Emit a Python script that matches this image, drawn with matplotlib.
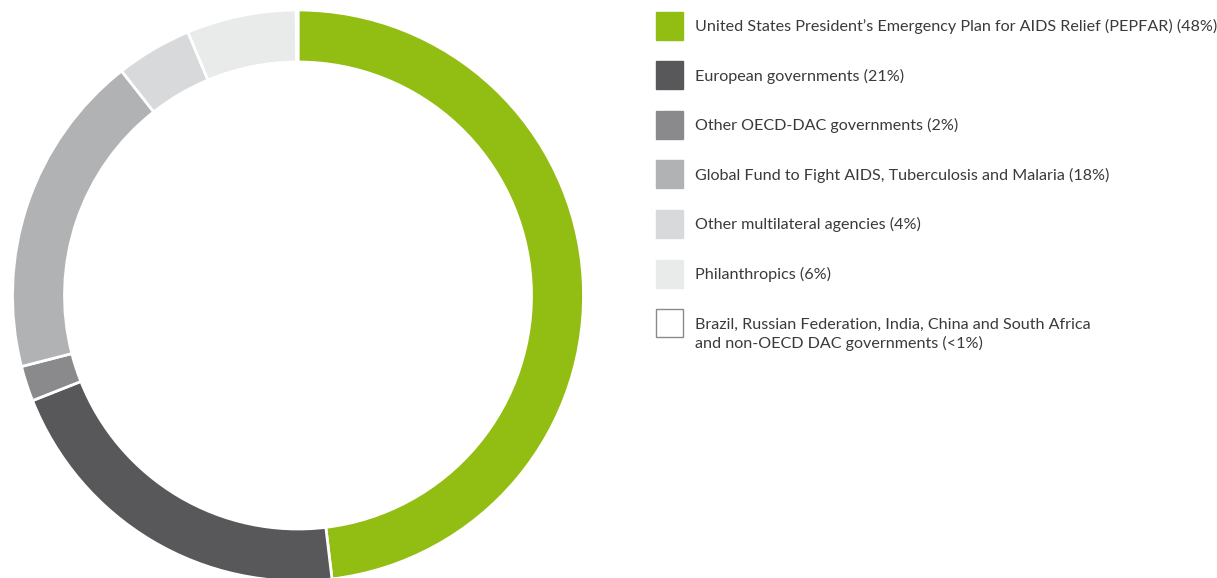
import matplotlib.pyplot as plt
from matplotlib.patches import Rectangle

labels = [
    "United States President\u2019s Emergency Plan for AIDS Relief (PEPFAR) (48%)",
    "European governments (21%)",
    "Other OECD-DAC governments (2%)",
    "Global Fund to Fight AIDS, Tuberculosis and Malaria (18%)",
    "Other multilateral agencies (4%)",
    "Philanthropics (6%)",
    "Brazil, Russian Federation, India, China and South Africa\nand non-OECD DAC governments (<1%)",
]
shares = [48.1, 20.9, 2.0, 18.4, 4.3, 6.2, 0.1]
colors = ["#92bd13", "#58585a", "#8a8a8c", "#b1b2b4", "#d8d9db", "#e9ebea", "#ffffff"]

W, H = 1217, 578
fig = plt.figure(figsize=(W / 100, H / 100), dpi=100)
ax = fig.add_axes([0, 0, 1, 1])

# donut
ax.pie(shares, colors=colors, startangle=90, counterclock=False,
       center=(298, H - 295.5), radius=285.5, frame=True,
       wedgeprops=dict(width=52, edgecolor="white", linewidth=2))
ax.set_xlim(0, W)
ax.set_ylim(0, H)
ax.set_aspect("equal")
ax.axis("off")

# legend
font = ["Lato", "DejaVu Sans"]
for i, (lab, c) in enumerate(zip(labels, colors)):
    yc = H - (25.5 + i * 49.6)
    ax.add_patch(Rectangle((656, yc - 14), 27, 28, facecolor=c,
                           edgecolor="#8a8a8c" if c == "#ffffff" else c, linewidth=1))
    lines = lab.split("\n")
    base = yc - 5.5 if len(lines) == 1 else yc - 5.5 + 0
    for j, ln in enumerate(lines):
        ax.text(695, base - j * 19, ln, fontsize=11.6, family=font,
                color="#3a3a3a", va="baseline", ha="left")

fig.savefig("out.png", dpi=100)
